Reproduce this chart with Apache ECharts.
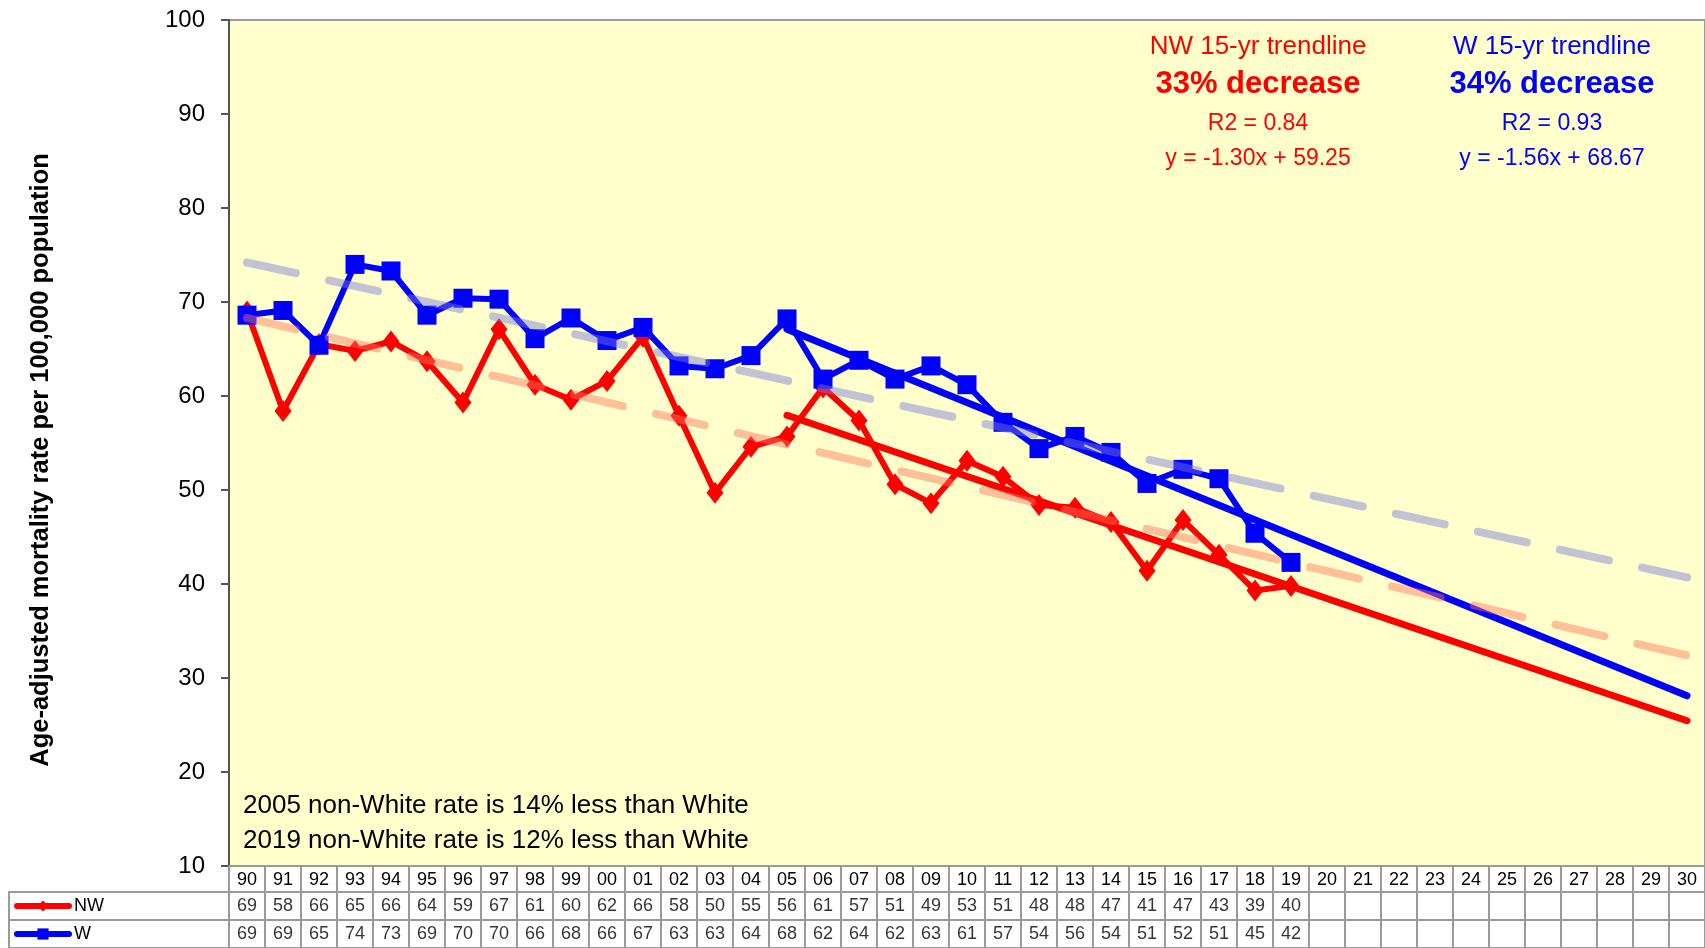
<!DOCTYPE html>
<html><head><meta charset="utf-8">
<script src="https://cdn.jsdelivr.net/npm/echarts@6/dist/echarts.min.js"></script>
<style>html,body{margin:0;padding:0;background:#fff}#c{width:1705px;height:948px}</style>
</head><body><div id="c"></div>
<script>
// ---- data ----
const years = ['90','91','92','93','94','95','96','97','98','99','00','01','02','03','04','05','06','07','08','09',
  '10','11','12','13','14','15','16','17','18','19','20','21','22','23','24','25','26','27','28','29','30'];
// plotted rates
const nwRate = [69.0,58.4,65.5,64.8,65.8,63.7,59.3,67.1,61.2,59.6,61.6,66.3,57.9,49.7,54.6,55.7,60.9,57.4,50.6,48.6,
  53.1,51.4,48.4,48.1,46.6,41.4,46.8,43.1,39.3,39.8];
const wRate = [68.6,69.1,65.4,74.0,73.3,68.6,70.4,70.3,66.1,68.3,65.9,67.3,63.2,62.9,64.3,68.2,61.8,63.8,61.8,63.2,
  61.2,57.2,54.4,55.7,54.0,50.7,52.2,51.2,45.4,42.3];
// values printed in the data table
const nwTable = [69,58,66,65,66,64,59,67,61,60,62,66,58,50,55,56,61,57,51,49,53,51,48,48,47,41,47,43,39,40];
const wTable  = [69,69,65,74,73,69,70,70,66,68,66,67,63,63,64,68,62,64,62,63,61,57,54,56,54,51,52,51,45,42];
// trendline end points
const nwTrend15 = [['05',57.95],['30',25.45]];
const wTrend15  = [['05',67.11],['30',28.11]];
const nwTrendAll = [['90',68.3],['30',32.4]];
const wTrendAll  = [['90',74.2],['30',40.7]];
const yMin = 10, yMax = 100, yStep = 10;

const FONT = 'Liberation Sans, Arial, sans-serif';
const GRID_GRAY = '#9a9a9a';

const chart = echarts.init(document.getElementById('c'), null, {renderer:'canvas'});

function rowAxes(gi){
  return {
    x: {type:'category', gridIndex:gi, data:years, boundaryGap:true,
        axisLine:{show:false}, axisTick:{show:false}, axisLabel:{show:false},
        splitLine:{show:true, interval:0, lineStyle:{color:GRID_GRAY, width:2}}},
    y: {type:'value', gridIndex:gi, min:0, max:1, show:false, splitLine:{show:false}}
  };
}
const r1 = rowAxes(1), r2 = rowAxes(2);
const tableLabel = {show:true, position:'inside', formatter:p=>String(p.value[2]), fontSize:18, color:'#000', fontFamily:FONT};
function legendFor(name, top){
  return {data:[name], orient:'horizontal', left:14, top:top, padding:0,
    itemWidth:52, itemHeight:14, itemGap:0, textStyle:{fontSize:18, color:'#000', fontFamily:FONT},
    lineStyle:{width:6, cap:'round'}, selectedMode:false};
}

const option = {
  animation:false,
  backgroundColor:'#ffffff',
  textStyle:{fontFamily:FONT},
  grid:[
    {left:229, top:20, right:0, height:846, show:true, backgroundColor:'#FFFFCC', borderColor:GRID_GRAY, borderWidth:2},
    {left:229, top:892, right:0, height:28, show:true, borderColor:GRID_GRAY, borderWidth:2},
    {left:229, top:920, right:0, height:32, show:true, borderColor:GRID_GRAY, borderWidth:2},
    {left:9, top:892, width:220, height:28, show:true, borderColor:GRID_GRAY, borderWidth:2},
    {left:9, top:920, width:220, height:32, show:true, borderColor:GRID_GRAY, borderWidth:2}
  ],
  xAxis:[
    {type:'category', gridIndex:0, data:years, boundaryGap:true,
     axisLine:{show:true, lineStyle:{color:GRID_GRAY, width:2}},
     axisTick:{show:true, interval:0, length:26, inside:false, lineStyle:{color:GRID_GRAY, width:2}},
     axisLabel:{show:true, interval:0, margin:5, fontSize:18, color:'#000', fontFamily:FONT},
     splitLine:{show:false}},
    r1.x, r2.x,
    {type:'value', gridIndex:3, show:false}, {type:'value', gridIndex:4, show:false}
  ],
  yAxis:[
    {type:'value', gridIndex:0, min:yMin, max:yMax, interval:yStep,
     axisLine:{show:true, lineStyle:{color:'#555', width:2}},
     axisTick:{show:true, length:8, lineStyle:{color:'#555', width:2}},
     axisLabel:{fontSize:24, color:'#000', margin:24, fontFamily:FONT},
     splitLine:{show:false}},
    r1.y, r2.y,
    {type:'value', gridIndex:3, show:false}, {type:'value', gridIndex:4, show:false}
  ],
  legend:[legendFor('NW', 897), legendFor('W', 925)],
  series:[
    {name:'NW 15-yr trend', type:'line', xAxisIndex:0, yAxisIndex:0, data:nwTrend15, symbol:'none',
     lineStyle:{color:'#FF0000', width:7, cap:'round'}, z:2, silent:true},
    {name:'W 15-yr trend', type:'line', xAxisIndex:0, yAxisIndex:0, data:wTrend15, symbol:'none',
     lineStyle:{color:'#0000FF', width:7, cap:'round'}, z:2, silent:true},
    {name:'NW', type:'line', xAxisIndex:0, yAxisIndex:0, data:nwRate, symbol:'diamond', symbolSize:[17,22],
     itemStyle:{color:'#FF0000'}, lineStyle:{color:'#FF0000', width:6}, z:3},
    {name:'W', type:'line', xAxisIndex:0, yAxisIndex:0, data:wRate, symbol:'rect', symbolSize:19,
     itemStyle:{color:'#0000FF'}, lineStyle:{color:'#0000FF', width:6}, z:4},
    {name:'NW all-years trend', type:'line', xAxisIndex:0, yAxisIndex:0, data:nwTrendAll, symbol:'none',
     lineStyle:{color:'rgb(255,115,90)', opacity:0.45, width:8, type:[50,34], cap:'round'}, z:5, silent:true},
    {name:'W all-years trend', type:'line', xAxisIndex:0, yAxisIndex:0, data:wTrendAll, symbol:'none',
     lineStyle:{color:'rgb(120,120,220)', opacity:0.45, width:8, type:[50,34], cap:'round'}, z:5, silent:true},
    {name:'NW table', type:'scatter', xAxisIndex:1, yAxisIndex:1, symbol:'rect', symbolSize:1,
     itemStyle:{color:'rgba(0,0,0,0)'}, silent:true,
     data:nwTable.map((v,i)=>[years[i],0.5,v]), label:tableLabel},
    {name:'W table', type:'scatter', xAxisIndex:2, yAxisIndex:2, symbol:'rect', symbolSize:1,
     itemStyle:{color:'rgba(0,0,0,0)'}, silent:true,
     data:wTable.map((v,i)=>[years[i],0.5,v]), label:tableLabel}
  ],
  graphic:[
    {type:'text', x:41, y:460, rotation:Math.PI/2, silent:true,
     style:{text:'Age-adjusted mortality rate per 100,000 population', font:'bold 25.5px '+FONT, fill:'#000', align:'center', verticalAlign:'middle'}},
    {type:'text', x:1258, y:47, style:{text:'NW 15-yr trendline', font:'26px '+FONT, fill:'#FF0000', align:'center', verticalAlign:'middle'}},
    {type:'text', x:1258, y:84, style:{text:'33% decrease', font:'bold 31px '+FONT, fill:'#FF0000', align:'center', verticalAlign:'middle'}},
    {type:'text', x:1258, y:124, style:{text:'R2 = 0.84', font:'23px '+FONT, fill:'#FF0000', align:'center', verticalAlign:'middle'}},
    {type:'text', x:1258, y:159, style:{text:'y = -1.30x + 59.25', font:'23px '+FONT, fill:'#FF0000', align:'center', verticalAlign:'middle'}},
    {type:'text', x:1552, y:47, style:{text:'W 15-yr trendline', font:'26px '+FONT, fill:'#0000FF', align:'center', verticalAlign:'middle'}},
    {type:'text', x:1552, y:84, style:{text:'34% decrease', font:'bold 31px '+FONT, fill:'#0000FF', align:'center', verticalAlign:'middle'}},
    {type:'text', x:1552, y:124, style:{text:'R2 = 0.93', font:'23px '+FONT, fill:'#0000FF', align:'center', verticalAlign:'middle'}},
    {type:'text', x:1552, y:159, style:{text:'y = -1.56x + 68.67', font:'23px '+FONT, fill:'#0000FF', align:'center', verticalAlign:'middle'}},
    {type:'text', x:243, y:806, style:{text:'2005 non-White rate is 14% less than White', font:'26px '+FONT, fill:'#000', align:'left', verticalAlign:'middle'}},
    {type:'text', x:243, y:841, style:{text:'2019 non-White rate is 12% less than White', font:'26px '+FONT, fill:'#000', align:'left', verticalAlign:'middle'}}
  ]
};
chart.setOption(option);
</script>
</body></html>
